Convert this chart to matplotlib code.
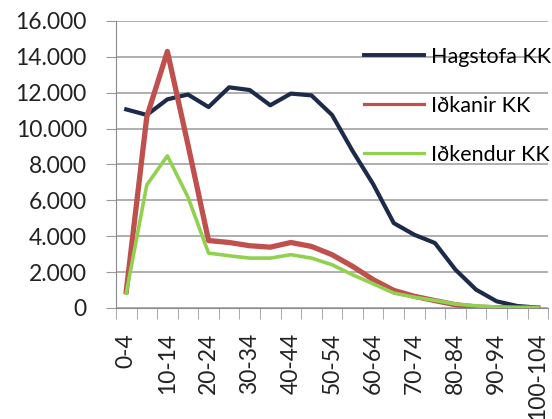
import numpy as np
import matplotlib.pyplot as plt
from matplotlib.lines import Line2D

plt.rcParams['font.family'] = ['Lato', 'DejaVu Sans']

age_groups = ['0-4', '5-9', '10-14', '15-19', '20-24', '25-29', '30-34', '35-39',
              '40-44', '45-49', '50-54', '55-59', '60-64', '65-69', '70-74',
              '75-79', '80-84', '85-89', '90-94', '95-99', '100-104']

hagstofa_kk = [11070, 10760, 11630, 11900, 11200, 12300, 12150, 11300, 11950, 11850,
               10760, 8750, 6900, 4730, 4080, 3620, 2130, 1020, 370, 110, 20]
idkanir_kk = [920, 10660, 14300, 9100, 3760, 3650, 3470, 3390, 3650, 3430,
              2970, 2320, 1580, 980, 650, 410, 180, 50, 10, 5, 0]
idkendur_kk = [820, 6860, 8480, 6180, 3060, 2910, 2780, 2780, 2970, 2780,
               2410, 1850, 1350, 830, 600, 420, 220, 120, 50, 20, 20]

yticks = [0, 2000, 4000, 6000, 8000, 10000, 12000, 14000, 16000]
ytick_labels = ['0', '2.000', '4.000', '6.000', '8.000', '10.000', '12.000', '14.000', '16.000']

colors = ['#1c2b4a', '#c0504d', '#92d050']
names = ['Hagstofa KK', 'Iðkanir KK', 'Iðkendur KK']

fig = plt.figure(figsize=(5.52, 4.19), dpi=100)
ax = fig.add_axes([0.210, 0.265, 0.783, 0.685])

x = np.arange(len(age_groups))
ax.plot(x, hagstofa_kk, color=colors[0], lw=3.0, solid_joinstyle='round')
ax.plot(x, idkanir_kk, color=colors[1], lw=3.8, solid_joinstyle='round')
ax.plot(x, idkendur_kk, color=colors[2], lw=2.6, solid_joinstyle='round')

ax.set_xlim(-0.5, len(age_groups) - 0.5)
ax.set_ylim(0, 16000)
ax.set_yticks(yticks)
ax.set_yticklabels(ytick_labels, fontsize=16.5, color='#222222')
ax.yaxis.grid(True, color='#9a9a9a', lw=1.1)
ax.set_axisbelow(True)

ax.set_xticks(x[::2])
ax.set_xticklabels(age_groups[::2], rotation=90, fontsize=16.5, color='#222222')
ax.set_xticks(np.arange(len(age_groups) + 1) - 0.5, minor=True)
ax.tick_params(axis='x', which='major', length=0, pad=18)
ax.tick_params(axis='x', which='minor', length=8, color='#9a9a9a', direction='out')
ax.tick_params(axis='y', length=7, color='#9a9a9a', direction='out', pad=14)

for s in ['top', 'right']:
    ax.spines[s].set_visible(False)
ax.spines['left'].set_color('#8a8a8a')
ax.spines['bottom'].set_color('#8a8a8a')

handles = [Line2D([], [], color=colors[0], lw=2.8),
           Line2D([], [], color=colors[1], lw=2.3),
           Line2D([], [], color=colors[2], lw=2.3)]
ax.legend(handles, names, loc='upper left', bbox_to_anchor=(0.555, 0.94), frameon=False,
          fontsize=15.5, handlelength=2.75, handletextpad=0.35, labelspacing=1.35,
          borderaxespad=0)

fig.savefig('out.png', dpi=100)
